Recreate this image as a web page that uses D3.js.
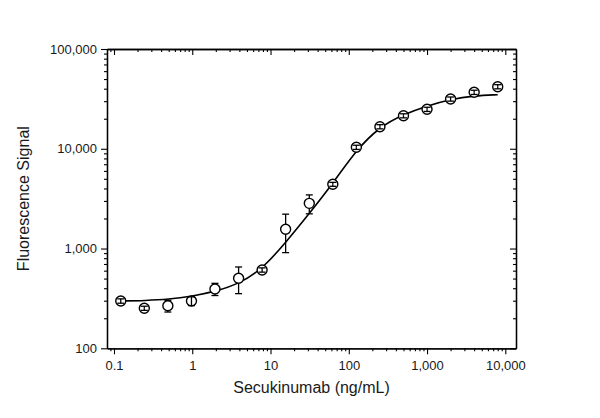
<!DOCTYPE html>
<html>
<head>
<meta charset="utf-8">
<script src="https://cdn.jsdelivr.net/npm/d3@7"></script>
<style>
  body { margin: 0; background: #fff; }
  svg { display: block; font-family: 'Liberation Sans', Arial, sans-serif; }
</style>
</head>
<body>
<div class="chart"></div>
<script>
// measured points (mean +/- SD)
const conc = [0.122, 0.244, 0.488, 0.977, 1.95, 3.91, 7.81, 15.6, 31.3, 62.5, 125, 250, 500, 1000, 2000, 4000, 8000]
const signal = [298, 252, 267, 298, 393, 503, 610, 1560, 2838, 4405, 10350, 16640, 21420, 24860, 31530, 36810, 41880]
const sd = [15, 12, 36, 30, 55, 150, 30, 650, 610, 200, 500, 800, 1000, 1200, 1500, 1800, 2000]

// fitted curve
const fitConc = [0.122, 0.25, 0.5, 1, 2, 4, 8, 16, 32, 63, 125, 250, 500, 1000, 2000, 4000, 8000]
const fitSignal = [298, 301, 309, 333, 372, 445, 631, 1175, 2290, 4520, 9770, 16640, 22130, 26900, 31400, 34040, 34830]

// axis ticks
const xMajor = [0.1, 1, 10, 100, 1000, 10000]
const yMajor = [100, 1000, 10000, 100000]

const W = 600, H = 418
const plot = { left: 107, right: 516, top: 49, bottom: 348.3 }

const xScale = d3.scaleLog()
  .domain([0.0814, 13700])
  .range([plot.left, plot.right])
const yScale = d3.scaleLog()
  .domain([100, 100000])
  .range([plot.bottom, plot.top])

const minorsOf = (majors, upto) => {
  const out = []
  majors.forEach(m => {
    for (let k = 2; k <= 9; k++) {
      const v = m * k
      if (v <= upto) out.push(v)
    }
  })
  return out
}
const xMinor = minorsOf([0.01, ...xMajor], 13700).filter(v => v >= 0.0814)
const yMinor = minorsOf(yMajor, 100000)

const svg = d3.select('.chart')
  .append('svg')
  .attr('width', W)
  .attr('height', H)

svg.append('rect').attr('width', W).attr('height', H).attr('fill', '#fff')

const fmt = d3.format(',')

const styleAxis = (g) => {
  g.attr('font-family', null).attr('font-size', null)
  g.select('.domain').attr('stroke', '#000').attr('stroke-width', 1.3)
  g.selectAll('.tick line').attr('stroke', '#000').attr('stroke-width', 1.1)
  g.selectAll('.tick text')
    .attr('fill', '#1a1a1a')
    .style('font-size', '13px')
    .style('font-family', "'Liberation Sans', Arial, sans-serif")
}

// bottom + top (top is a shifted copy with ticks pointing down)
const addX = (y, labels) => {
  svg.append('g')
    .attr('transform', `translate(0,${y})`)
    .call(d3.axisBottom(xScale).tickValues(xMinor).tickSize(3).tickSizeOuter(0).tickFormat(''))
    .call(styleAxis)
  svg.append('g')
    .attr('transform', `translate(0,${y})`)
    .call(d3.axisBottom(xScale).tickValues(xMajor).tickSize(6).tickSizeOuter(0)
      .tickPadding(6).tickFormat(labels ? fmt : ''))
    .call(styleAxis)
}
addX(plot.bottom, true)
addX(plot.top, false)

// left + right (right is a shifted copy with ticks pointing left)
const addY = (x, labels) => {
  svg.append('g')
    .attr('transform', `translate(${x},0)`)
    .call(d3.axisLeft(yScale).tickValues(yMinor).tickSize(3).tickSizeOuter(0).tickFormat(''))
    .call(styleAxis)
  svg.append('g')
    .attr('transform', `translate(${x},0)`)
    .call(d3.axisLeft(yScale).tickValues(yMajor).tickSize(6).tickSizeOuter(0)
      .tickPadding(4).tickFormat(labels ? fmt : ''))
    .call(styleAxis)
}
addY(plot.left, true)
addY(plot.right, false)

// axis titles
svg.append('text')
  .attr('x', (plot.left + plot.right) / 2)
  .attr('y', 393)
  .attr('text-anchor', 'middle')
  .attr('fill', '#1a1a1a')
  .style('font-size', '16px')
  .text('Secukinumab (ng/mL)')

svg.append('text')
  .attr('transform', `translate(29,${(plot.top + plot.bottom) / 2}) rotate(-90)`)
  .attr('text-anchor', 'middle')
  .attr('fill', '#1a1a1a')
  .style('font-size', '16px')
  .text('Fluorescence Signal')

// fit line
const fit = fitConc.map((c, i) => ({ c, v: fitSignal[i] }))
svg.append('path')
  .datum(fit)
  .attr('fill', 'none')
  .attr('stroke', '#000')
  .attr('stroke-width', 1.6)
  .attr('d', d3.line()
    .x(d => xScale(d.c))
    .y(d => yScale(d.v))
    .curve(d3.curveBasis))

// markers
const pts = conc.map((c, i) => ({ c, v: signal[i], e: sd[i] }))
const r = 5

svg.selectAll('.pt')
  .data(pts)
  .enter()
  .append('circle')
  .attr('class', 'pt')
  .attr('cx', d => xScale(d.c))
  .attr('cy', d => yScale(d.v))
  .attr('r', r)
  .attr('fill', '#fff')
  .attr('stroke', '#000')
  .attr('stroke-width', 1.4)

// error bars: hidden under the circle when they reach past it, drawn over it when short
const bars = svg.selectAll('.err')
  .data(pts)
  .enter()
  .append('g')
  .attr('class', 'err')
  .attr('stroke', '#000')
  .attr('stroke-width', 1.3)

bars.each(function (d) {
  const g = d3.select(this)
  const cx = xScale(d.c), cy = yScale(d.v)
  const hi = yScale(d.v + d.e), lo = yScale(d.v - d.e)
  const capW = 3.5
  g.append('line').attr('x1', cx).attr('x2', cx)
    .attr('y1', hi).attr('y2', cy - hi > r ? cy - r : cy)
  g.append('line').attr('x1', cx).attr('x2', cx)
    .attr('y1', lo).attr('y2', lo - cy > r ? cy + r : cy)
  g.append('line').attr('x1', cx - capW).attr('x2', cx + capW).attr('y1', hi).attr('y2', hi)
  g.append('line').attr('x1', cx - capW).attr('x2', cx + capW).attr('y1', lo).attr('y2', lo)
})
</script>
</body>
</html>
